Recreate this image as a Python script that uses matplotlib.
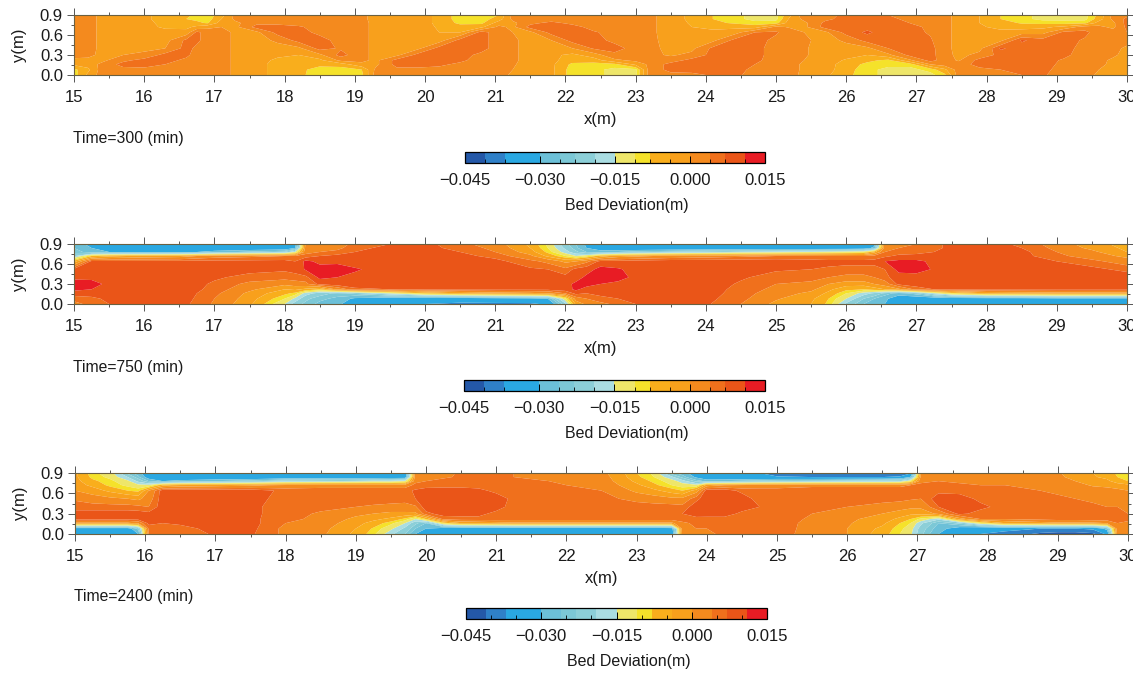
import numpy as np
import matplotlib as mpl
mpl.use('Agg')
import matplotlib.pyplot as plt
from matplotlib.colors import BoundaryNorm, ListedColormap
from matplotlib.patches import Rectangle
from matplotlib.ticker import MultipleLocator

plt.rcParams['font.family'] = ['Liberation Sans', 'DejaVu Sans']

W, H = 1139, 673

# colour classes of the bar, in mm of bed deviation
levels_mm = [-45, -41, -37, -30, -26, -23, -19, -15, -11, -8, -4, 0, 4, 7, 11, 15]
colors = ['#2458a8', '#2f80c8', '#2aa8e2', '#6cc0d8', '#7cc8d6', '#8ccfd8', '#aadde2',
          '#eee66a', '#f5e22a', '#f9ae1c', '#f8a01c', '#f48a1e', '#f0701c', '#ea5518', '#e81c24']

# y stations of every profile, top to bottom
y_rows = [0.9, 0.84, 0.78, 0.72, 0.64, 0.52, 0.4, 0.3, 0.22, 0.16, 0.08, 0.0]

# Time=300: one profile per x station (mm)
x_300 = [15, 15.2, 15.4, 15.7, 16, 16.3, 16.6, 16.75, 16.9, 17.1, 17.3, 17.6, 17.9, 18.2, 18.5, 18.8, 19.1,
         19.3, 19.6, 19.9, 20.2, 20.5, 20.8, 21.05, 21.25, 21.5, 21.8, 22.1, 22.4, 22.7, 23, 23.2,
         23.5, 23.8, 24.1, 24.4, 24.7, 25, 25.2, 25.4, 25.7, 26, 26.3, 26.6, 26.9, 27.2, 27.4, 27.6,
         27.9, 28.2, 28.5, 28.8, 29.1, 29.4, 29.6, 29.8, 30]
bed_300 = [
    [2, 2, 2, 2, 2, 2, 2, 1.5, -1, -3, -9, -10],
    [1.5, 1.5, 1.5, 1.5, 1.5, 1.5, 1.5, 1, -1, -2, -5, -3],
    [-1, -1, -1, -1, -1, -1, -1, -1, -1, 1, 2, 2],
    [-2, -2, -2, -2, -2, -2, -1, 0, 3, 5.5, 2.5, 2],
    [-3.5, -3.5, -3, -3, -2.5, -2, -1, 1, 5.5, 5.5, 3, 2],
    [-5, -5, -5, -4.5, -3, -1.5, 0, 5.5, 5.5, 4, 2.5, 2],
    [-7, -8, -6.5, -5, -2.5, 5, 5.5, 5, 3, 2, 2, 2],
    [-9, -9, -7, -3, 5, 5, 3, 2, 2, 2, 2, 2],
    [-10, -10, -8.5, -1, 2, 2, 2, 2, 2, 2, 2, 2],
    [-6, -4, -2, 0, 2, 2, 2, 2, 2, 2, 2, 2],
    [2, 1, -1, -1, -1, -1, -1, -1, -1, -1, -1, -1],
    [2, 2, 3, 5.5, -1, -2, -2, -2, -2, -2, -2, -2],
    [2, 2, 3, 5.5, 5.5, 1, -2, -3, -5, -6, -6, -6],
    [2, 2, 2.5, 4.5, 5.5, 5.5, -1, -4, -6, -7, -7, -7],
    [2, 2, 2, 2.5, 3, 5.5, 5.5, -1, -5, -7, -9.5, -10],
    [2, 2, 2, 2, 2, 2.5, 3.5, 5.5, 1, -6, -10, -10.5],
    [1, 1, 1, 1, 1, 1, 1, 1, 1, -1, -8, -9],
    [-1.5, -1.5, -1, -1, -1, -1, -1, -1, -1, -1, 1, 2],
    [-2, -2, -2, -2, -2, -2, -1.5, -1, 5.5, 5.5, 3, 2],
    [-2, -2, -2, -2, -2, -1.5, -1, 5.5, 5.5, 5.5, 3, 2],
    [-5, -5, -5, -4.5, -4, -2, 5.5, 5.5, 5.5, 5, 2.5, 2],
    [-10, -10, -9, -6, -4, 5.5, 5.5, 5.5, 5, 3, 2, 2],
    [-10.5, -10, -9, -5, 5.5, 5.5, 5.5, 3, 2, 2, 2, 2],
    [-8, -6, -2, 1, 2, 2, 2, 2, 2, 2, 2, 2],
    [2, 1, -1, -1, 0, 1, 1, 1, 1, 0.5, 0, -1],
    [2, 2, 3, 5.5, -1, -2, -2, -2, -2, -2, -2, -2],
    [2, 2, 5, 5.5, 5.5, 0, -2, -3, -3, -3, -3, -3],
    [2, 2, 3, 5.5, 5.5, 5.5, 0, -5, -6, -9, -10, -10],
    [2, 2, 2, 2.5, 4.5, 5.5, 4.5, -2, -6, -9.5, -10, -10],
    [2, 2, 2, 2, 2.5, 3, 5.5, 3, -1, -9, -12, -12],
    [2, 2, 2, 2, 2, 2, 2.5, 2, 1, -3, -12, -12],
    [1, 1, 1, 1, 1, 1, 1, 1, 0.5, 1, 2, 2],
    [-2, -2, -2, -2, -2, -1.5, -1, -0.5, 2, 5.5, 5, 3],
    [-5, -5, -4.5, -4, -3, -1.5, -1, 1, 5.5, 5.5, 5.5, 3],
    [-8, -8, -7, -5, -3, -1, 5, 5.5, 5.5, 5.5, 5.5, 4.5],
    [-10, -10, -8.5, -5, -2, 5, 5.5, 5.5, 5.5, 5.5, 5.5, 5],
    [-12, -12, -10, -6, 4, 5.5, 5.5, 5.5, 5, 4, 3, 2.5],
    [-12, -12, -9.5, 1, 4.5, 3, 2, 2, 2, 2, 2, 2],
    [-5, -3, -1.5, -0.5, 2, 2, 2, 2, 2, 2, 2, 2],
    [3, 1, -1, -1, 0, 1, 0.5, 0.5, 0, -1, -1, -1.5],
    [2.5, 3, 5, 5.5, -1, -2, -2, -2, -2, -2, -2, -3],
    [5, 5.5, 5.5, 5.5, 5.5, 1, -2, -2.5, -4.5, -6, -6.5, -7],
    [5.5, 5.5, 5.5, 6, 7.5, 5.5, -1, -4, -7, -9, -10, -10],
    [4, 5, 5.5, 5.5, 5.5, 5.5, 4, -1, -9, -10, -12, -12],
    [2.5, 3, 4, 5.5, 5.5, 5.5, 5.5, 5, -1, -10, -12, -12.5],
    [2, 2, 2.5, 3, 3.5, 4.5, 5.5, 5.5, 5.5, 0, -10, -12],
    [1, 1, 1, 1, 1, 1, 1, 1.5, 2, 2, -5, -9],
    [-1, -1, -1, -1, -1, -1, -1, -1, -0.5, 2, 2, 2],
    [-4, -4, -4, -3.5, -3, -2, -1, 1, 5.5, 5.5, 3, 2.5],
    [-8, -8, -6, -5, -3, -1, 7.5, 5.5, 5.5, 5, 4, 3],
    [-10, -10, -8.5, -5.5, -2, 7.5, 5.5, 5.5, 5.5, 5.5, 5, 4],
    [-12, -12, -9, -5, -1.5, 5.5, 5.5, 5.5, 5.5, 5.5, 5, 4.5],
    [-12, -12, -9.5, -3, 5, 5.5, 5.5, 5, 3.5, 3, 2.5, 2],
    [-12, -12, -9, 2, 5, 3.5, 2.5, 2, 2, 2, 2, 2],
    [-7, -6, -2, 1, 2, 2, 2, 2, 1.5, 1, 0, -1],
    [2, 1, -1, -1, 2, 2, 1.5, 1, -1, -1, -1.5, -2],
    [3, 5, 5.5, 5, 4, 2, -1, -2, -2, -2, -2, -2],
]

# Time=750
x_750 = [15, 15.25, 15.5, 16, 16.5, 17, 17.5, 18, 18.15, 18.3, 18.5, 18.75, 19, 19.5, 20, 20.5, 21,
         21.5, 21.75, 22, 22.15, 22.3, 22.5, 22.75, 23, 23.5, 24, 24.5, 25, 25.5, 25.75, 26, 26.25,
         26.4, 26.55, 26.75, 27, 27.25, 27.5, 28, 28.5, 29, 29.5, 30]
bed_750 = [
    [-27, -26, -24, -20, -6, 8, 10, 13, 12, 9, 5, 3],
    [-32, -30, -28, -8, 8, 9, 10, 12.5, 11, 9, 6, 5],
    [-34, -33, -30, -5, 8, 9, 9.5, 10, 9.5, 9, 8, 7],
    [-35, -35, -32, -3, 8, 9, 9, 9, 9, 9, 9, 8],
    [-35, -35, -32, -2, 8, 9, 9, 9, 9, 9, 9, 8.5],
    [-35, -35, -28, 2, 8, 9, 7.5, 6.5, 6, 5, 4, 3.5],
    [-35, -35, -25, 3, 8, 8, 6, 3, 1, -1, -2, -3],
    [-35, -35, -22, 4, 8, 7.5, 5.5, 1, -4, -7, -11, -15],
    [-33, -30, -15, 4, 7, 8, 6, 2, -3, -9, -16, -21],
    [1, 2, 3, 5, 12, 11.5, 6, 3, -5, -17, -22, -24],
    [2, 2, 4, 7, 10, 12.5, 12, 8, -8, -21, -25, -27],
    [2, 3, 5, 8, 10, 13, 11, 9, 1, -24, -27, -29],
    [5, 6, 7, 8, 9, 11.5, 10, 9.5, 6, -22, -31, -33],
    [7, 8, 8, 9, 9, 9, 9, 9.5, 7, -15, -34, -36],
    [8, 8, 8, 9, 9, 9, 9, 9, 8, -8, -35, -37],
    [5, 6, 7, 8, 9, 9, 9, 9, 8, -4, -34, -38],
    [2, 3, 4, 6, 8, 9, 9, 9, 8, -2, -33, -38],
    [-5, -4, -2, 1, 5, 7.5, 8.5, 9, 8, -1, -32, -38],
    [-12, -11, -9, -5, 3, 7, 8, 9, 8, 0, -30, -36],
    [-22, -20, -17, -11, -1, 5, 8, 9.5, 9, 4, -12, -20],
    [-26, -25, -22, -15, 0, 8, 9, 12, 12, 8, 2, -3],
    [-31, -30, -26, -12, 3, 9, 12, 13, 9, 7, 4, 1],
    [-34, -33, -28, -6, 8, 12.5, 13, 11, 9, 8, 6, 3],
    [-35, -35, -26, -2, 8, 11.5, 12.5, 10, 9, 8, 7, 5],
    [-36, -36, -24, -1, 8.5, 9.5, 10, 9, 9, 9, 8, 7],
    [-36, -36, -22, 1, 9, 9, 9, 9, 9, 9, 8, 8],
    [-36, -36, -20, 2, 9, 9, 9, 9, 8.5, 8.5, 8, 7.5],
    [-36, -36, -18, 3, 9, 8.5, 7.5, 6.5, 6, 5.5, 5, 4],
    [-36, -35, -17, 4, 9, 7.5, 5.5, 4, 3, 2, 0.5, -1],
    [-36, -35, -15, 4, 8.5, 7, 5.5, 3, 1, -1, -3, -4],
    [-36, -35, -14, 4, 8, 6.5, 4, 0, -3, -5, -8, -9],
    [-36, -35, -13, 4, 8, 6, 3, -2, -7, -11, -15, -20],
    [-36, -34, -12, 4, 8, 6, 3, -2, -8, -17, -23, -26],
    [-33, -28, -5, 5, 8, 6, 4, 0, -6, -20, -26, -28],
    [3, 3, 4, 6, 11, 7, 6, 2, -4, -24, -29, -30],
    [3, 4, 5, 8, 12, 12.5, 9, 8, -1, -28, -33, -34],
    [4, 5, 6, 8, 12, 13, 9, 9, 5, -24, -34, -36],
    [6, 6, 7, 8, 10, 10.5, 9, 9, 7, -16, -34, -36],
    [8, 8, 8, 9, 9, 9, 9, 9, 8, -10, -33, -36],
    [8, 8, 8, 9, 9, 9, 9, 9, 8, -4, -33, -36],
    [6.5, 7, 8, 8, 9, 9, 9, 9, 8, -3, -33, -36],
    [2, 3, 4, 5, 7, 9, 9, 9, 8, -2, -32, -36],
    [-2, -1, 1, 2, 5, 8, 9, 9, 8, -2, -32, -36],
    [-6, -5, -4, -1, 2, 6, 9, 9, 8, -2, -32, -36],
]

# Time=2400
x_2400 = [15, 15.25, 15.5, 15.75, 15.9, 16.05, 16.25, 16.5, 17, 17.5, 17.75, 18, 18.5, 19, 19.25, 19.5,
          19.7, 19.85, 20, 20.25, 20.5, 20.75, 21, 21.25, 21.75, 22, 22.5, 22.75, 23, 23.25, 23.5,
          23.65, 23.85, 24, 24.25, 24.5, 24.75, 25, 25.5, 26, 26.5, 26.75, 26.9, 27.05, 27.3, 27.6,
          27.9, 28.25, 28.75, 29, 29.25, 29.5, 29.7, 29.85, 30]
bed_2400 = [
    [-3, -3, -2.5, -2, 0, 3.5, 5.5, 8.5, 8, -1, -33, -36],
    [-10, -9, -7, -5, -2, 2, 5.5, 8.5, 8, -1, -33, -36],
    [-13, -12, -10, -9, -5, 1, 5.5, 8.5, 8, -1, -33, -36],
    [-24, -19, -14, -12, -8, 0, 5.5, 8.5, 8, -1, -33, -37],
    [-28, -25, -20, -14, -9, -1, 5, 8.5, 8, 1, -25, -30],
    [-35, -33, -26, -14, 0, 2, 4, 8, 9, 8, 5, 4],
    [-36, -35, -30, -5, 9, 9, 9, 9, 9, 7, 5, 4],
    [-36, -36, -28, -3, 9, 9, 9, 9, 9, 7.5, 6, 5],
    [-37, -36, -26, -2, 9, 9, 9, 9, 9, 9, 8, 7.5],
    [-37, -36, -24, -1, 9, 9, 9, 9, 9, 9, 8, 7.5],
    [-36, -36, -22, 0, 7.5, 7, 6, 6, 5.5, 5.5, 5.5, 5.5],
    [-36, -35, -20, 1, 6, 5.5, 5.5, 5.5, 5, 4, 3, 3],
    [-36, -35, -19, 2, 6, 5.5, 5, 3.5, 3, 2.5, 1.5, 1],
    [-36, -35, -18, 2, 6, 5.5, 4, 1, -1, -2.5, -4, -5],
    [-36, -35, -17, 2, 6, 5.5, 3.5, 0, -3, -5.5, -8.5, -10],
    [-36, -34, -17, 2, 6, 5.5, 3, -1, -5, -10, -14, -18],
    [-36, -34, -15, 2, 6, 5, 3, -1, -9, -15, -20, -23],
    [3, 3, 3, 5, 7.5, 7, 3.5, -1, -15, -22, -26, -30],
    [3, 3, 4, 5, 9, 9, 9, 6, -8, -26, -30, -34],
    [3, 3.5, 5, 5.5, 9, 9, 9, 8.5, 5, -10, -33, -36],
    [4.5, 4.5, 5, 5.5, 9, 9, 9, 8, 6, -4, -34, -37],
    [5, 5, 5, 5.5, 8, 9, 9, 8, 6, -3, -34, -37],
    [5, 5, 5, 5.5, 6, 9, 8.5, 6, 6, -2, -34, -37],
    [4, 4, 5, 5, 5.5, 6, 5.5, 5.5, 5.5, -1, -34, -37],
    [2, 3, 4, 5, 5.5, 5.5, 5.5, 5.5, 5.5, -1, -34, -37],
    [1, 2, 3, 4, 5, 5.5, 5.5, 5.5, 5.5, -1, -34, -37],
    [1, 1.5, 2, 3, 4, 5, 5.5, 5.5, 5.5, -1, -34, -37],
    [-2, -1.5, -1, 0, 2, 4, 5.5, 5.5, 5.5, -1, -34, -37],
    [-8, -7, -5, -3, -1, 3, 5.5, 5.5, 5.5, -1, -34, -37],
    [-12, -11, -9, -7, -3, 2, 5.5, 5.5, 5.5, -1, -34, -37],
    [-25, -18, -13, -11, -6, 1, 5.5, 6, 5.5, -1, -33, -36],
    [-28, -24, -17, -13, -8, 1, 5, 7, 6, 3, 2, 1],
    [-33, -31, -24, -14, -2, 6, 9, 8.5, 6, 5, 4, 3],
    [-36, -35, -27, -2, 9, 9, 9, 9, 5.5, 5, 4, 3.5],
    [-36, -36, -26, 0, 9, 9, 9, 9, 5.5, 5.5, 5, 4.5],
    [-37, -36, -25, 1, 6, 9, 9, 6, 5.5, 5.5, 5.5, 5],
    [-37, -36, -24, 2, 5.5, 5.5, 7, 5.5, 5.5, 5.5, 5.5, 5.5],
    [-42, -36, -23, 2, 5.5, 5.5, 5.5, 5.5, 5.5, 5.5, 5.5, 5.5],
    [-42, -37, -22, 3, 6, 5.5, 5, 4, 3.5, 3, 2.8, 2.5],
    [-42, -37, -21, 3, 6, 5.5, 4, 2, 1, 0.5, 0, 0],
    [-42, -37, -20, 3, 6, 5, 3, 0, -2, -3, -5, -6],
    [-42, -36, -19, 3, 6, 5, 2, -2, -5, -8, -10, -11],
    [-38, -30, -12, 4, 6, 4.5, 1, -3, -8, -11, -13, -14],
    [0, 1, 3, 5, 7, 4, 1, -3, -12, -18, -21, -22],
    [2, 3, 4, 5, 6, 9, 7, 1, -18, -26, -28, -30],
    [3, 3, 3.5, 4.5, 5.5, 9, 9, 8, -2, -22, -33, -34],
    [3, 3, 3.5, 4, 5, 6, 8, 5.5, 4, -12, -36, -37],
    [3, 3, 3.5, 4, 5, 5.5, 5.5, 5.5, 4, -4, -36, -38],
    [3, 3, 3, 3.5, 4, 5, 5.5, 5.5, 5, -2, -37, -42],
    [0.5, 1, 2, 3, 3.5, 4.5, 5.5, 5.5, 5.5, -1, -37, -43],
    [-2, -1.5, 0, 1.5, 3, 4, 5, 5.5, 5.5, -1, -37, -43],
    [-4, -3.5, -2, -0.5, 2, 3.5, 4.5, 5.5, 6, -1, -36, -42],
    [-5, -5, -3, -1, 1.5, 3, 4, 5, 6, 0, -28, -36],
    [-9, -8, -6, -2, 1, 3, 4, 5, 5.5, 4, 3, 2],
    [-11, -10, -8, -3, 0, 2, 3, 4, 5, 3, 2, 2],
]

time_labels = ['Time=300 (min)', 'Time=750 (min)', 'Time=2400 (min)']
x_ticks = list(range(15, 31))
y_ticks = [0.0, 0.3, 0.6, 0.9]
bar_ticks = [-0.045, -0.03, -0.015, 0.0, 0.015]
bar_ticklabels = ['\u22120.045', '\u22120.030', '\u22120.015', '0.000', '0.015']

# pixel boxes: left, right, top, bottom
panel_boxes = [(74, 1127, 15, 75), (74, 1127, 244, 304), (75, 1128, 473, 534)]
bar_boxes = [(465, 765, 152, 163), (464, 765, 380, 391), (466, 767, 608, 619)]


def px_axes(fig, box):
    l, r, t, b = box
    return fig.add_axes([l / W, 1 - b / H, (r - l) / W, (b - t) / H])


fig = plt.figure(figsize=(W / 100, H / 100), dpi=100)
levels = np.array(levels_mm) / 1000
cmap = ListedColormap(colors)
norm = BoundaryNorm(levels, cmap.N)

panels = [(x_300, bed_300), (x_750, bed_750), (x_2400, bed_2400)]
for i, (xs, bed) in enumerate(panels):
    ax = px_axes(fig, panel_boxes[i])
    z = np.array(bed).T / 1000
    cf = ax.contourf(xs, y_rows, z, levels=levels, cmap=cmap, norm=norm, antialiased=True)
    ax.set_xlim(15, 30)
    ax.set_ylim(0, 0.9)
    ax.set_xticks(x_ticks)
    ax.set_yticks(y_ticks)
    ax.set_yticklabels(['0.0', '0.3', '0.6', '0.9'])
    ax.xaxis.set_minor_locator(MultipleLocator(0.5))
    ax.yaxis.set_minor_locator(MultipleLocator(0.15))
    ax.tick_params(which='both', top=True, right=True, direction='out', color='#555555', width=0.7)
    ax.tick_params(which='major', length=5, labelsize=12, labelcolor='#1a1a1a')
    ax.tick_params(axis='x', which='major', pad=6)
    ax.tick_params(axis='y', which='major', pad=3)
    ax.tick_params(which='minor', length=2.5)
    for s in ax.spines.values():
        s.set_linewidth(0.8)
        s.set_color('#6b6040')
    l, r, t, b = panel_boxes[i]
    ax.set_xlabel('x(m)', fontsize=12, color='#1a1a1a', labelpad=5)
    ax.set_ylabel('y(m)', fontsize=12, color='#1a1a1a', labelpad=9)
    fig.text((l - 1) / W, 1 - (t + 123.5) / H, time_labels[i], fontsize=11.3, color='#1a1a1a', va='center')

    cax = px_axes(fig, bar_boxes[i])
    cb = fig.colorbar(cf, cax=cax, orientation='horizontal', spacing='proportional')
    cb.set_ticks(bar_ticks)
    cb.set_ticklabels(bar_ticklabels)
    cb.ax.xaxis.set_minor_locator(MultipleLocator(0.005))
    cb.ax.tick_params(which='major', direction='in', length=5, width=0.7, labelsize=12, pad=7.5, labelcolor='#1a1a1a')
    cb.ax.tick_params(which='minor', direction='in', length=3, width=0.6)
    cb.outline.set_linewidth(0.9)
    cb.set_label('Bed Deviation(m)', fontsize=11.5, color='#1a1a1a', labelpad=7)
    # the label sits right of the bar centre in the reference
    cb.ax.xaxis.label.set_x(0.54)

# the reference is cropped just past the last tick
fig.add_artist(Rectangle((1133 / W, 0), 6 / W, 1, transform=fig.transFigure, facecolor='white', edgecolor='none', zorder=10))

fig.savefig('out.png', dpi=100)
